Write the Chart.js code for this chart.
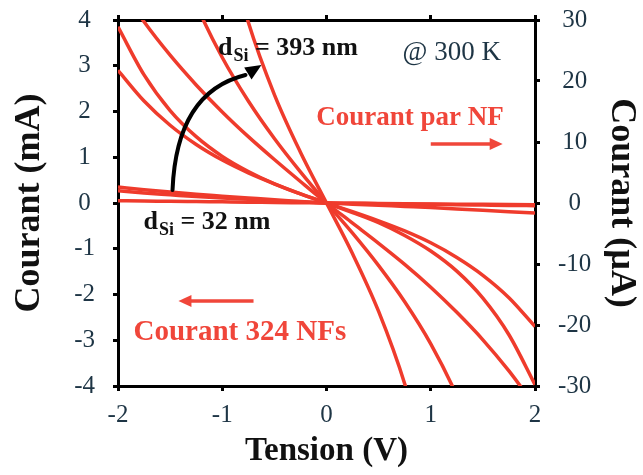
<!DOCTYPE html>
<html>
<head>
<meta charset="utf-8">
<script src="https://cdn.jsdelivr.net/npm/chart.js@4.4.0/dist/chart.umd.min.js"></script>
<style>
  html, body { margin: 0; padding: 0; background: #fff; }
</style>
</head>
<body>
<canvas id="chart" width="643" height="475"></canvas>
<script>
// Voltage sweep (V)
const tension = [-2, -1.75, -1.5, -1.25, -1, -0.75, -0.5, -0.25, 0, 0.25, 0.5, 0.75, 1, 1.25, 1.5, 1.75, 2];

// Current of the 324 NFs (mA), thickest film first
const courant393 = [null, null, null, null, 6.05, 3.95, 2.37, 1.11, 0, -1.11, -2.37, -3.95, -6.05, null, null, null, null];
const courantB = [null, null, 5.77, 4.34, 3.18, 2.23, 1.41, 0.68, 0, -0.66, -1.37, -2.16, -3.08, -4.21, -5.60, null, null];
const courantC = [4.80, 3.96, 3.23, 2.58, 1.99, 1.45, 0.95, 0.47, 0, -0.44, -0.88, -1.34, -1.84, -2.39, -2.99, -3.67, -4.44];
const courantD = [3.85, 2.80, 2.02, 1.45, 1.02, 0.69, 0.42, 0.20, 0, -0.21, -0.43, -0.71, -1.05, -1.49, -2.08, -2.88, -3.97];
const courantE = [2.90, 2.23, 1.70, 1.28, 0.94, 0.66, 0.42, 0.20, 0, -0.19, -0.39, -0.61, -0.87, -1.19, -1.58, -2.07, -2.70];
const courantF = [0.35, 0.29, 0.24, 0.19, 0.15, 0.11, 0.07, 0.035, 0, -0.025, -0.05, -0.075, -0.10, -0.13, -0.16, -0.19, -0.22];
const courantG = [0.27, 0.22, 0.18, 0.14, 0.11, 0.08, 0.05, 0.025, 0, -0.008, -0.015, -0.023, -0.03, -0.038, -0.045, -0.052, -0.06];
const courant32 = [0.05, 0.044, 0.037, 0.031, 0.025, 0.019, 0.012, 0.006, 0, -0.005, -0.01, -0.015, -0.02, -0.025, -0.03, -0.035, -0.04];

const series = [courant393, courantB, courantC, courantD, courantE, courantF, courantG, courant32];

// Axis ticks
const xTicks = [-2, -1, 0, 1, 2];
const yLeftTicks = [-4, -3, -2, -1, 0, 1, 2, 3, 4];
const yRightTicks = [-30, -20, -10, 0, 10, 20, 30];

const RED = '#ef3b2c';
const TEXT_RED = '#f0463a';
const TICK_COLOR = '#1e3545';
const SERIF = '"Liberation Serif", "Times New Roman", serif';

const tickFont = { family: SERIF, size: 25 };
const gridOpts = { drawOnChartArea: false, tickLength: 5, lineWidth: 3, color: '#000' };
const borderOpts = { color: '#000', width: 3 };

function arrowHead(ctx, fromX, fromY, tipX, tipY, len, half) {
  const a = Math.atan2(tipY - fromY, tipX - fromX);
  ctx.beginPath();
  ctx.moveTo(tipX, tipY);
  ctx.lineTo(tipX - len * Math.cos(a) + half * Math.sin(a), tipY - len * Math.sin(a) - half * Math.cos(a));
  ctx.lineTo(tipX - len * Math.cos(a) - half * Math.sin(a), tipY - len * Math.sin(a) + half * Math.cos(a));
  ctx.closePath();
  ctx.fill();
}

function drawThickness(ctx, left, base, rest) {
  ctx.fillStyle = '#111';
  ctx.textAlign = 'left';
  ctx.textBaseline = 'alphabetic';
  ctx.font = 'bold 26px ' + SERIF;
  ctx.fillText('d', left, base);
  let w = ctx.measureText('d').width + 1;
  ctx.font = 'bold 18px ' + SERIF;
  ctx.fillText('Si', left + w, base + 6);
  w += ctx.measureText('Si').width;
  ctx.font = 'bold 26px ' + SERIF;
  ctx.fillText(rest, left + w, base);
}

// Labels and arrows placed in data coordinates
const annotations = {
  id: 'annotations',
  afterDatasetsDraw(chart) {
    const { ctx } = chart;
    const px = v => chart.scales.x.getPixelForValue(v);
    const py = v => chart.scales.y.getPixelForValue(v);
    ctx.save();

    // curved black arrow from 32 nm to 393 nm
    ctx.strokeStyle = '#000';
    ctx.fillStyle = '#000';
    ctx.lineWidth = 4;
    ctx.lineCap = 'round';
    ctx.beginPath();
    ctx.moveTo(px(-1.477), py(0.284));
    ctx.quadraticCurveTo(px(-1.439), py(2.426), px(-0.777), py(2.798));
    ctx.stroke();
    arrowHead(ctx, px(-0.79), py(2.78), px(-0.624), py(3.016), 16, 7);

    drawThickness(ctx, px(-1.04), py(3.23), ' = 393 nm');
    drawThickness(ctx, px(-1.755), py(-0.57), ' = 32 nm');

    ctx.fillStyle = TICK_COLOR;
    ctx.font = '27px ' + SERIF;
    ctx.textAlign = 'left';
    ctx.fillText('@ 300 K', px(0.73), py(3.126));

    // red labels and arrows
    ctx.fillStyle = TEXT_RED;
    ctx.strokeStyle = TEXT_RED;
    ctx.font = 'bold 27px ' + SERIF;
    ctx.textAlign = 'right';
    ctx.fillText('Courant par NF', px(1.70), py(1.705));
    ctx.textAlign = 'left';
    ctx.font = 'bold 29px ' + SERIF;
    ctx.fillText('Courant 324 NFs', px(-1.851), py(-2.995));

    ctx.lineWidth = 3.5;
    ctx.lineCap = 'butt';
    ctx.beginPath();
    ctx.moveTo(px(1.0), py(1.29));
    ctx.lineTo(px(1.58), py(1.29));
    ctx.stroke();
    arrowHead(ctx, px(1.0), py(1.29), px(1.69), py(1.29), 13, 6);

    ctx.beginPath();
    ctx.moveTo(px(-0.70), py(-2.14));
    ctx.lineTo(px(-1.31), py(-2.14));
    ctx.stroke();
    arrowHead(ctx, px(-0.70), py(-2.14), px(-1.42), py(-2.14), 13, 6);

    ctx.restore();
  }
};

// fixed axis boxes so the plot area sits where the original does
const fixY = w => s => { s.width = w; s.paddingTop = 0; s.paddingBottom = 0; };
const fixX = h => s => { s.height = h; s.paddingLeft = 0; s.paddingRight = 0; };

new Chart(document.getElementById('chart'), {
  type: 'line',
  data: {
    datasets: series.map(vals => ({
      data: tension.map((v, i) => ({ x: v, y: vals[i] })),
      borderColor: RED,
      borderWidth: 3.5,
      pointRadius: 0,
      fill: false,
      spanGaps: false,
      cubicInterpolationMode: 'monotone',
      yAxisID: 'y'
    }))
  },
  options: {
    responsive: false,
    animation: false,
    layout: { padding: 0 },
    plugins: { legend: { display: false }, tooltip: { enabled: false } },
    scales: {
      x: {
        type: 'linear', position: 'bottom', min: -2, max: 2,
        afterBuildTicks: s => { s.ticks = xTicks.map(v => ({ value: v })); },
        ticks: { padding: 9, color: TICK_COLOR, font: tickFont },
        grid: gridOpts,
        border: borderOpts,
        title: { display: true, text: 'Tension (V)', color: '#111', font: { family: SERIF, size: 33, weight: 'bold' }, padding: { top: 0, bottom: 4 } },
        afterFit: fixX(89)
      },
      xTop: {
        type: 'linear', position: 'top', min: -2, max: 2,
        afterBuildTicks: s => { s.ticks = xTicks.map(v => ({ value: v })); },
        ticks: { display: false },
        grid: gridOpts,
        border: borderOpts,
        afterFit: fixX(20)
      },
      y: {
        type: 'linear', position: 'left', min: -4, max: 4,
        afterBuildTicks: s => { s.ticks = yLeftTicks.map(v => ({ value: v })); },
        ticks: { padding: 18, crossAlign: 'center', color: TICK_COLOR, font: tickFont },
        grid: gridOpts,
        border: borderOpts,
        title: { display: true, text: 'Courant (mA)', color: '#111', font: { family: SERIF, size: 36, weight: 'bold' }, padding: { top: 8, bottom: 0 } },
        afterFit: fixY(118)
      },
      yRight: {
        type: 'linear', position: 'right', min: -30, max: 30,
        afterBuildTicks: s => { s.ticks = yRightTicks.map(v => ({ value: v })); },
        ticks: { padding: 18, crossAlign: 'center', color: TICK_COLOR, font: tickFont },
        grid: gridOpts,
        border: borderOpts,
        title: { display: true, text: 'Courant (µA)', color: '#111', font: { family: SERIF, size: 36, weight: 'bold' }, padding: { top: 0, bottom: 0 } },
        afterFit: fixY(108)
      }
    }
  },
  plugins: [annotations]
});
</script>
</body>
</html>
